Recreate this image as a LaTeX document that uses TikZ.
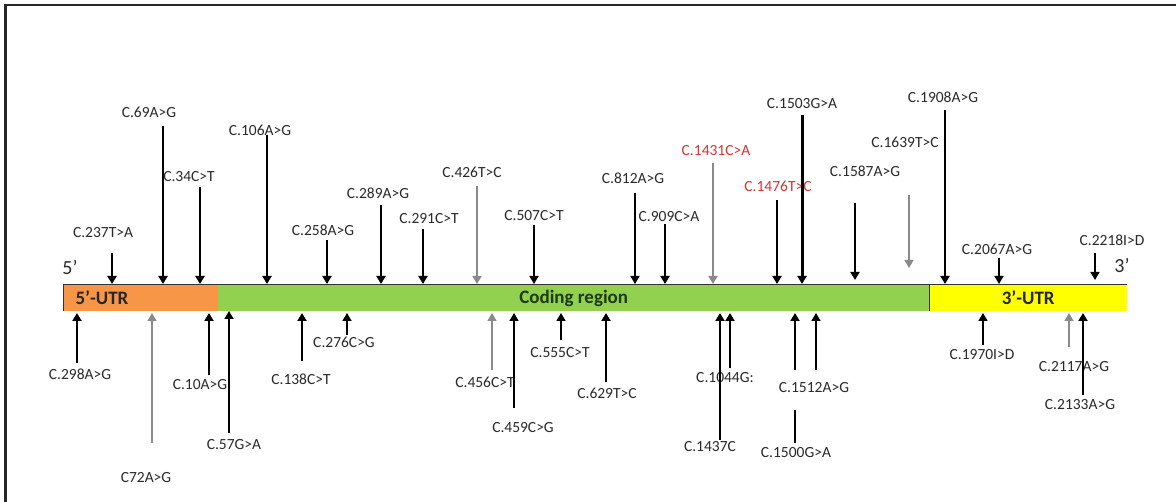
\documentclass[tikz,border=0pt]{standalone}
\usepackage{fontspec}
\setmainfont{Carlito}
\usetikzlibrary{arrows.meta}
\definecolor{utrorange}{HTML}{F79646}
\definecolor{cdsgreen}{HTML}{92D050}
\definecolor{utryellow}{HTML}{FFFF00}
\definecolor{lblgray}{HTML}{2A2A2A}
\definecolor{lblred}{HTML}{D83434}
\definecolor{arrgray}{HTML}{8A8A8A}
\definecolor{cdstext}{HTML}{1F3A10}
\tikzset{
  lbl/.style={font=\fontsize{15.5}{17}\selectfont, text=lblgray, inner sep=1pt},
  redlbl/.style={lbl, text=lblred},
  mut/.style={line width=#1, -{Triangle[width=9pt,length=8pt]}},
  gmut/.style={mut=#1, draw=arrgray},
  seg/.style={line width=#1},
  region/.style={draw=none, minimum height=26pt, inner sep=0pt, anchor=west},
  regtext/.style={font=\fontsize{19}{21}\selectfont\bfseries},
  endlbl/.style={font=\fontsize{20}{22}\selectfont, text=lblgray, inner sep=0pt}
}
% #1 name, #2 label x, #3 label y, #4 text, #5 label style, #6 arrow x, #7 start y, #8 tip y, #9 arrow style
\newcommand{\mutation}[9]{%
  \node[#5] (#1) at (#2,#3) {#4};
  \coordinate (#1s) at (#6,#7);
  \coordinate (#1t) at (#6,#8);
  \draw[#9] (#1s) -- (#1t);
}
\begin{document}
\begin{tikzpicture}[x=1pt,y=-1pt]
\useasboundingbox (0,0) rectangle (1176,502);
\fill[white] (0,0) rectangle (1176,502);
% frame
\coordinate (fa) at (5.5,502);
\coordinate (fb) at (5.5,5);
\coordinate (fc) at (1176,5);
\draw[line width=2.5pt, draw=black!85] (fa) -- (fb) -- (fc);
% regions
\node[region, fill=utrorange, minimum width=155pt] (utr5) at (63,298) {};
\node[region, fill=cdsgreen, minimum width=711pt] (cds) at (218,298) {};
\node[region, fill=utryellow, minimum width=198pt] (utr3) at (929,298) {};
\draw[line width=1pt, draw=black!80] (utr5.south west) -- (utr5.north west) -- (utr3.north east);
\draw[line width=1pt, draw=black!80] (utr3.north west) -- (utr3.south west);
\node[regtext, text=black!85] (t5) at (102,298) {5’-UTR};
\node[regtext, text=cdstext] (tc) at (cds.center) {Coding region};
\node[regtext, text=black!85] (t3) at (utr3.center) {3’-UTR};
\node[endlbl] (e5) at (70,268) {5’};
\node[endlbl] (e3) at (1122,266) {3’};
% mutations above the bar
\mutation{a237}{103}{233}{C.237T>A}{lbl}{112}{253}{284}{mut=1.8pt}
\mutation{a69}{149}{112}{C.69A>G}{lbl}{163}{126}{284}{mut=2pt}
\mutation{a34}{189}{177}{C.34C>T}{lbl}{200}{187}{284}{mut=2pt}
\mutation{a106}{260}{130}{C.106A>G}{lbl}{267}{135}{284}{mut=2pt}
\mutation{a258}{323}{230}{C.258A>G}{lbl}{327}{240}{284}{mut=2pt}
\mutation{a289}{378}{193}{C.289A>G}{lbl}{381}{205}{284}{mut=2pt}
\mutation{a291}{429}{219}{C.291C>T}{lbl}{423}{229}{284}{mut=2.2pt}
\mutation{a426}{472}{172}{C.426T>C}{lbl}{477}{186}{284}{gmut=1.5pt}
\mutation{a507}{534}{216}{C.507C>T}{lbl}{534}{225}{284}{mut=1.5pt}
\mutation{a812}{633}{178}{C.812A>G}{lbl}{635}{193}{284}{mut=1.3pt}
\mutation{a909}{669}{217}{C.909C>A}{lbl}{665}{224}{284}{mut=2pt}
\mutation{a1431}{716}{151}{C.1431C>A}{redlbl}{713}{163}{284}{gmut=1.5pt}
\mutation{a1476}{778}{186}{C.1476T>C}{redlbl}{777}{200}{284}{mut=2pt}
\mutation{a1503}{802}{104}{C.1503G>A}{lbl}{802}{115}{284}{mut=3pt}
\mutation{a1587}{865}{171}{C.1587A>G}{lbl}{855}{203}{280}{mut=2.5pt}
\mutation{a1639}{905}{142}{C.1639T>C}{lbl}{909}{195}{268}{gmut=1.2pt}
\mutation{a1908}{943}{97}{C.1908A>G}{lbl}{945}{110}{284}{mut=2pt}
\mutation{a2067}{997}{249}{C.2067A>G}{lbl}{999}{258}{284}{mut=1.5pt}
\mutation{a2218}{1112}{240}{C.2218I>D}{lbl}{1095}{253}{280}{mut=1.5pt}
% mutations below the bar
\mutation{b298}{80}{374}{C.298A>G}{lbl}{77}{363}{313}{mut=2.5pt}
\mutation{b72}{146}{478}{C72A>G}{lbl}{152}{443}{313}{gmut=1.5pt}
\mutation{b10}{200}{385}{C.10A>G}{lbl}{209}{375}{313}{mut=2.5pt}
\mutation{b57}{234}{445}{C.57G>A}{lbl}{229}{433}{311}{mut=1.5pt}
\mutation{b138}{301}{379}{C.138C>T}{lbl}{302}{361}{313}{mut=2.5pt}
\mutation{b276}{344}{342}{C.276C>G}{lbl}{347}{335}{313}{mut=1.5pt}
\mutation{b456}{485}{382}{C.456C>T}{lbl}{492}{370}{313}{gmut=1.5pt}
\mutation{b459}{523}{428}{C.459C>G}{lbl}{514}{408}{313}{mut=1.5pt}
\mutation{b555}{560}{353}{C.555C>T}{lbl}{561}{340}{313}{mut=1.5pt}
\mutation{b629}{607}{393}{C.629T>C}{lbl}{606}{382}{313}{mut=2pt}
\mutation{b1044}{725}{378}{C.1044G:}{lbl}{730}{368}{313}{mut=2.5pt}
\mutation{b1437}{710}{447}{C.1437C}{lbl}{720}{440}{313}{mut=2pt}
\mutation{b1512}{814}{388}{C.1512A>G}{lbl}{816}{370}{313}{mut=1.5pt}
\mutation{b1500}{796}{453}{C.1500G>A}{lbl}{795}{370}{313}{mut=2.5pt}
\coordinate (b1500a) at (795,443);
\coordinate (b1500b) at (795,410);
\draw[seg=2.5pt] (b1500a) -- (b1500b);
\mutation{b1970}{982}{355}{C.1970I>D}{lbl}{983}{345}{313}{mut=1.5pt}
\mutation{b2117}{1074}{367}{C.2117A>G}{lbl}{1069}{347}{313}{gmut=1.5pt}
\mutation{b2133}{1080}{405}{C.2133A>G}{lbl}{1083}{395}{313}{mut=2pt}
\end{tikzpicture}
\end{document}
